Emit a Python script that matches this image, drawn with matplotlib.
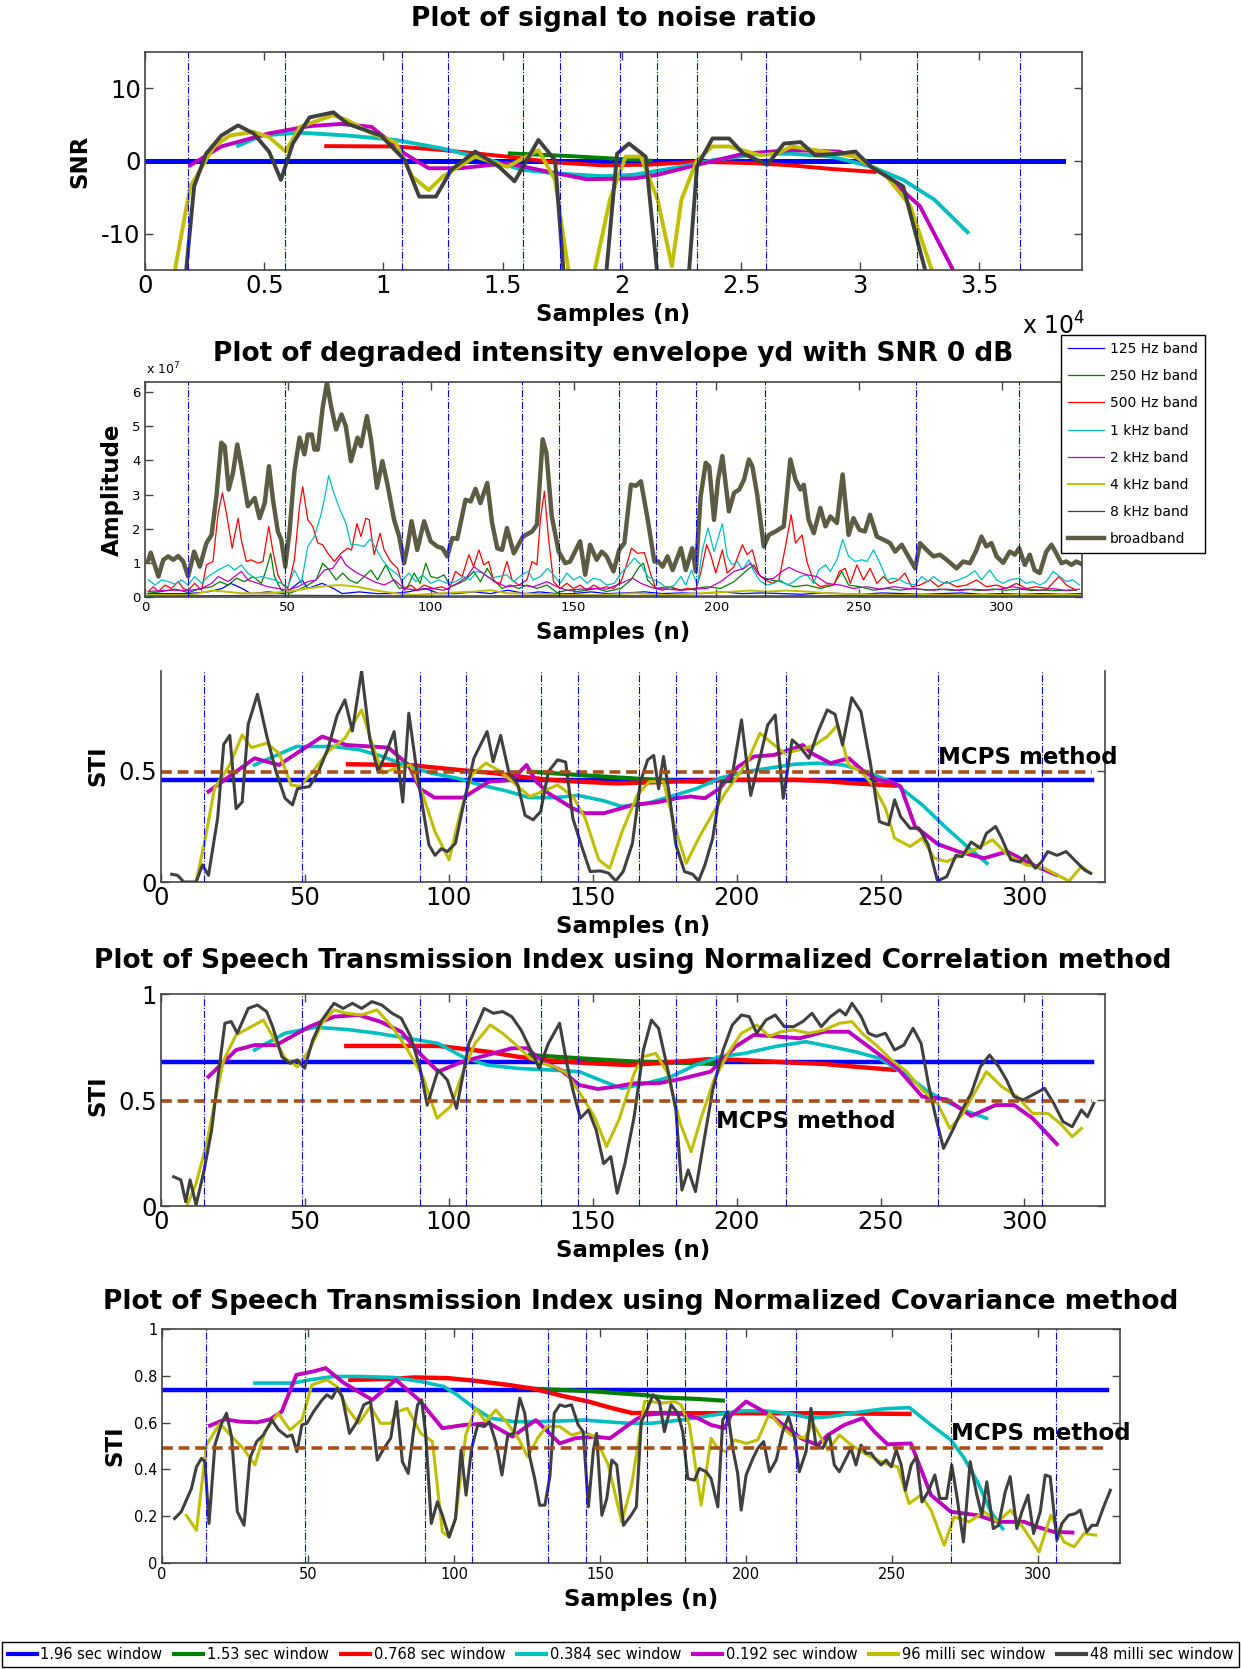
import numpy as np
import matplotlib
matplotlib.use("Agg")
import matplotlib.pyplot as plt
from matplotlib.lines import Line2D
from matplotlib.ticker import FormatStrFormatter

plt.rcParams['font.family'] = ['DejaVu Sans']
plt.rcParams['axes.unicode_minus'] = False
plt.rcParams['mathtext.default'] = 'regular'

# MATLAB style colours
C_BLUE = (0, 0, 1)
C_GREEN = (0, 0.5, 0)
C_RED = (1, 0, 0)
C_CYAN = (0, 0.75, 0.75)
C_MAG = (0.75, 0, 0.75)
C_YEL = (0.75, 0.75, 0)
C_GRAY = (0.25, 0.25, 0.25)
C_OLIVE = '#5c5b44'
C_BROWN = '#a5501a'

window_labels = ['1.96 sec window', '1.53 sec window', '0.768 sec window', '0.384 sec window',
                 '0.192 sec window', '96 milli sec window', '48 milli sec window']
band_labels = ['125 Hz band', '250 Hz band', '500 Hz band', '1 kHz band', '2 kHz band',
               '4 kHz band', '8 kHz band', 'broadband']

# window boundaries (samples)
win_marks = [15, 49, 90, 106, 132, 145, 166, 179, 193, 217, 270, 306]
hop = 0.012   # samples -> x10^4 for the SNR plot

# ---------------- SNR plot (x in units of 10^4) ----------------
snr_blue_end = 3.85
snr_green = [(1.53, 1.05), (1.78, 0.68), (2.12, 0.05)]
snr_red = [(0.76, 2.05), (1.05, 2.0), (1.25, 1.5), (1.52, 0.6), (1.72, -0.2), (1.92, -0.6), (2.12, -0.5),
           (2.32, -0.1), (2.55, -0.3), (2.71, -0.6), (2.88, -1.1), (3.06, -1.5)]
snr_cyan = [(0.39, 2.1), (0.49, 3.5), (0.65, 3.9), (0.85, 3.5), (1.05, 2.9), (1.25, 1.7), (1.45, 0.1),
            (1.58, -1.2), (1.72, -1.7), (1.92, -2.1), (2.05, -1.9), (2.25, -0.8), (2.38, 0.1), (2.58, 1.0),
            (2.71, 1.0), (2.88, 0.6), (3.05, -0.8), (3.18, -2.6), (3.31, -5.3), (3.45, -9.8)]
snr_mag = [(0.19, -0.6), (0.32, 2.0), (0.52, 3.8), (0.69, 4.8), (0.82, 5.1), (0.95, 4.7), (1.09, 1.0),
           (1.19, -1.0), (1.32, -1.0), (1.52, -0.3), (1.65, -1.2), (1.85, -2.5), (2.05, -2.4), (2.15, -1.9),
           (2.32, -0.5), (2.51, 1.0), (2.71, 1.5), (2.91, 1.3), (2.98, 0.6), (3.11, -2.1), (3.25, -6.2),
           (3.38, -14.4), (3.41, -16.5)]
snr_yel = [(0.12, -16), (0.19, -3.5), (0.29, 2.0), (0.355, 3.5), (0.455, 4.0), (0.52, 3.3), (0.59, 1.3),
           (0.65, 4.7), (0.79, 6.3), (0.85, 5.6), (0.95, 3.8), (1.05, 2.6), (1.12, -2.1), (1.19, -4.0),
           (1.25, -2.1), (1.385, 0.6), (1.52, -0.8), (1.65, 1.5), (1.72, -2.6), (1.78, -16), (1.88, -16),
           (1.95, -5.3), (2.016, 0.6), (2.08, 0.6), (2.15, -5.3), (2.21, -14.5), (2.25, -5.3), (2.315, 0.1),
           (2.38, 2.0), (2.45, 2.0), (2.58, 0.8), (2.65, 1.0), (2.71, 2.0), (2.85, 1.3), (2.98, 0.6),
           (3.11, -2.1), (3.21, -6.2), (3.31, -16)]
snr_blk = [(0.17, -16), (0.206, -3.5), (0.256, 1.0), (0.32, 3.5), (0.39, 4.9), (0.455, 3.8), (0.52, 1.3),
           (0.57, -2.6), (0.62, 2.4), (0.69, 6.0), (0.79, 6.7), (0.85, 5.1), (0.99, 3.5), (1.09, 0.1),
           (1.15, -4.9), (1.22, -4.9), (1.285, -1.2), (1.385, 1.3), (1.485, -0.8), (1.55, -2.8), (1.65, 2.9),
           (1.72, 0.1), (1.757, -16), (1.933, -16), (1.98, 1.0), (2.03, 2.4), (2.1, 0.6), (2.15, -16),
           (2.28, -16), (2.315, -0.8), (2.38, 3.1), (2.45, 3.1), (2.51, 1.0), (2.61, -0.5), (2.68, 2.4),
           (2.75, 2.6), (2.81, 0.8), (2.91, 1.0), (2.98, 1.3), (3.045, -0.8), (3.18, -3.5), (3.28, -16)]

# ---------------- degraded intensity envelope (x 1e7) ----------------
env_blue = [(1, 0.1), (8, 0.1), (15, 0.1), (22, 0.15), (27, 0.25), (30, 0.4), (34, 0.25), (37, 0.1), (43, 0.15),
            (49, 0.1), (52, 0.3), (55, 0.5), (57, 0.25), (62, 0.4), (66, 0.25), (69, 0.1), (75, 0.15), (81, 0.1),
            (86, 0.1), (92, 0.15), (98, 0.25), (103, 0.1), (109, 0.1), (115, 0.15), (121, 0.1), (127, 0.2),
            (133, 0.1), (138, 0.15), (144, 0.1), (150, 0.1), (156, 0.15), (162, 0.1), (168, 0.12), (175, 0.15),
            (181, 0.1), (188, 0.12), (195, 0.1), (202, 0.15), (209, 0.1), (216, 0.12), (223, 0.1), (230, 0.08),
            (237, 0.12), (244, 0.1), (251, 0.08), (258, 0.12), (265, 0.1), (272, 0.08), (279, 0.1), (286, 0.12),
            (293, 0.08), (300, 0.1), (307, 0.08), (314, 0.1), (321, 0.08), (328, 0.1)]
env_green = [(1.2, 0.11), (5.8, 0.16), (10.5, 0.23), (15.1, 0.13), (19.8, 0.25), (23.3, 0.3), (26.2, 0.45),
             (29.1, 0.35), (32, 0.55), (34.9, 0.45), (37.8, 0.6), (40.7, 0.4), (42.4, 0.79), (44, 1.28),
             (45.3, 0.6), (47.7, 0.2), (50.6, 0.11), (53.5, 0.2), (57, 0.35), (59.9, 0.5), (62.2, 0.99),
             (64.5, 0.79), (66.9, 0.5), (69.2, 0.7), (71.5, 0.5), (74.2, 0.4), (76.7, 0.6), (79.1, 0.79),
             (81.4, 0.5), (84.3, 0.94), (86.6, 0.55), (89, 0.25), (91.9, 0.3), (94.2, 0.7), (96.3, 0.4),
             (98.3, 0.99), (100, 0.6), (102.3, 0.55), (104.7, 0.65), (107, 0.3), (109.9, 0.4), (112.2, 0.5),
             (115.1, 0.75), (117.4, 0.45), (119.8, 0.84), (122.1, 0.5), (125, 0.25), (127.9, 0.35),
             (130.8, 0.25), (133.7, 0.35), (137.2, 0.25), (140.7, 0.35), (144.2, 0.13), (147.7, 0.2),
             (151.2, 0.16), (154.7, 0.2), (158.1, 0.25), (161.6, 0.16), (166.6, 0.25), (170.1, 0.5),
             (173, 0.89), (174.5, 0.99), (175.9, 0.5), (178.8, 0.25), (182.9, 0.3), (187.6, 0.2),
             (192.2, 0.25), (196.9, 0.3), (201.5, 0.25), (206.2, 0.45), (210.8, 0.79), (213.1, 0.94),
             (215.5, 0.6), (219, 0.5), (222.4, 0.45), (227.1, 0.3), (231.7, 0.35), (236.4, 0.25), (241, 0.35),
             (243.9, 0.75), (246.3, 0.35), (250.3, 0.3), (255, 0.2), (259.7, 0.25), (264.3, 0.2), (269, 0.25),
             (273.6, 0.2), (278.3, 0.23), (282.9, 0.19), (287.6, 0.23), (292.2, 0.19), (296.9, 0.23),
             (301.5, 0.2), (306.2, 0.23), (310.8, 0.19), (315.5, 0.2), (320.1, 0.19), (326, 0.2)]
env_red = [(1.2, 0.16), (2.9, 0.3), (4.7, 0.16), (7, 0.35), (9.3, 0.25), (11.6, 0.45), (13.4, 0.25), (15.1, 0.2),
           (17.4, 0.4), (19.8, 0.2), (21.5, 0.94), (23.8, 1.04), (25.6, 2.46), (27.1, 3.05), (28.5, 2.46),
           (30.5, 1.43), (32.6, 2.31), (33.7, 1.68), (35.5, 1.04), (37.2, 1.09), (39.5, 0.99), (41.3, 1.04),
           (43.3, 2.07), (44.8, 1.33), (46.5, 0.65), (48.3, 0.35), (50, 0.25), (52.3, 1.09), (54.1, 2.66),
           (55.2, 3.23), (57, 2.26), (58.7, 2.07), (60.5, 1.58), (62.2, 1.53), (64, 1.28), (66.3, 1.04),
           (68.6, 1.28), (70.9, 1.43), (72.3, 1.38), (74.2, 2.15), (75.6, 1.77), (77.3, 2.31), (78.5, 2.26),
           (80.2, 1.24), (82.3, 1.87), (83.7, 1.38), (86, 1.04), (88.4, 0.84), (90.7, 0.2), (93, 0.35),
           (95.3, 0.2), (97.7, 0.35), (101, 0.25), (104, 0.3), (106.4, 0.2), (108.7, 0.75), (111, 0.6),
           (113.4, 1.24), (115, 0.89), (116.9, 1.38), (118.6, 0.94), (120.3, 1.04), (122.1, 0.45), (124.4, 0.4),
           (126.7, 1.04), (128.5, 0.5), (130.8, 0.35), (133.7, 0.5), (135.5, 1.04), (137.2, 0.94), (138.4, 2.26),
           (139.8, 3.1), (141.3, 1.68), (143, 0.45), (145.3, 0.25), (147.7, 0.4), (150, 0.25), (152.3, 0.35),
           (154.7, 0.2), (157, 0.35), (159.3, 0.25), (161.6, 0.3), (164, 0.25), (166.6, 0.45), (168.4, 0.89),
           (170.3, 1.43), (172.4, 1.28), (174.8, 1.3), (177.1, 0.65), (178.8, 0.25), (181.2, 0.2), (184.1, 0.3),
           (187, 0.2), (189.9, 0.25), (192.8, 0.2), (194.5, 0.7), (196.6, 1.53), (198, 1.24), (199.8, 0.7),
           (202.1, 1.38), (203.8, 0.7), (206.2, 0.89), (209.1, 1.53), (210.8, 1.24), (212.6, 1.38),
           (214.9, 0.65), (217.2, 0.5), (219.5, 0.4), (221.9, 0.5), (224.2, 1.48), (226.2, 2.41), (227.7, 1.58),
           (230, 1.82), (231.7, 1.04), (234.1, 0.45), (236.4, 0.3), (238.7, 0.35), (241.1, 0.35), (243.1, 0.75),
           (245.1, 0.84), (246.9, 0.4), (249.2, 0.94), (251.5, 0.5), (253.8, 0.84), (256.2, 0.4), (258.5, 0.6),
           (260.8, 0.4), (263.7, 0.5), (266, 0.7), (268.4, 0.3), (271.3, 0.35), (274.8, 0.5), (277.7, 0.3),
           (280.6, 0.45), (284.1, 0.3), (287.6, 0.35), (291.1, 0.5), (294.5, 0.3), (298.1, 0.35), (301.5, 0.25),
           (305, 0.4), (308.5, 0.25), (311.9, 0.3), (316, 0.25), (319.9, 0.6), (322.5, 0.35), (326, 0.2)]
env_cyan = [(1.2, 0.5), (3.5, 0.35), (5.8, 0.5), (8.1, 0.45), (10.5, 0.38), (12.8, 0.5), (15.1, 0.35),
            (17.4, 0.6), (19.8, 0.4), (22.1, 0.6), (25.6, 0.79), (29.1, 0.94), (31.4, 0.79), (33.7, 0.94),
            (36, 0.7), (38.4, 0.55), (40.7, 0.6), (43, 0.55), (45.3, 0.5), (47.7, 0.4), (50, 0.3), (52.3, 0.79),
            (54.7, 0.4), (57, 1.48), (59.3, 1.77), (61.6, 2.41), (63, 2.95), (64.3, 3.56), (65.7, 3.15),
            (68, 2.61), (70.3, 2.17), (72.1, 1.53), (74.4, 1.53), (76.7, 1.48), (78.8, 1.7), (80.8, 1.43),
            (83.1, 1.09), (85.5, 0.84), (87.8, 0.7), (90.1, 0.5), (92.4, 0.7), (94.8, 0.45), (97.1, 0.65),
            (100, 0.4), (102.9, 0.5), (105.8, 0.4), (108.7, 0.45), (111.5, 0.6), (113.8, 0.5), (116.1, 0.75),
            (118.4, 0.7), (120.8, 0.55), (123.7, 0.6), (126.6, 0.65), (129, 0.45), (131.9, 0.65), (134.2, 0.75),
            (135.9, 0.5), (138.4, 0.6), (140.9, 0.84), (143, 0.65), (145.3, 0.4), (147.7, 0.7), (150, 0.5),
            (152.3, 0.6), (154.7, 0.4), (157, 0.55), (159.3, 0.5), (161.6, 0.35), (164.3, 0.4), (166.6, 0.7),
            (168.9, 0.89), (171.3, 1.14), (173.6, 0.94), (176, 0.6), (178.3, 0.5), (180.6, 0.4), (182.9, 0.25),
            (185.3, 0.35), (187.6, 0.6), (189.3, 0.35), (191.3, 0.79), (193.4, 0.35), (195.1, 1.38),
            (197.1, 2.02), (199.2, 1.33), (200.6, 1.73), (202.1, 2.15), (203.8, 1.19), (205.6, 0.94),
            (207.4, 1.04), (209.1, 0.79), (211.4, 1.09), (213.1, 0.75), (215.5, 0.45), (217.8, 0.35),
            (220.1, 0.4), (222.4, 0.5), (224.8, 0.35), (227.1, 0.45), (229.4, 0.6), (231.7, 0.65), (234.1, 0.4),
            (235.8, 0.79), (238.2, 0.94), (239.9, 0.75), (242.2, 1.09), (244.2, 1.68), (246.3, 1.19),
            (248.6, 1.04), (250.9, 1.09), (252.7, 1.04), (255, 1.38), (257.3, 0.99), (259.7, 0.5), (262, 0.55),
            (264.3, 0.5), (266.6, 0.4), (269.5, 0.35), (271.9, 0.6), (274.2, 0.45), (276, 0.6), (278.3, 0.45),
            (280.6, 0.4), (284.7, 0.5), (287.6, 0.6), (290.5, 0.77), (292.8, 0.5), (295.7, 0.79), (298.1, 0.5),
            (300.4, 0.4), (302.7, 0.5), (306, 0.55), (308.5, 0.4), (310.9, 0.45), (313.2, 0.35), (315.5, 0.45),
            (317.9, 0.75), (320.2, 0.6), (322.5, 0.45), (324.8, 0.5), (327.1, 0.35)]
env_mag = [(1.2, 0.16), (5.8, 0.19), (10.5, 0.2), (15.1, 0.19), (19.8, 0.25), (23.3, 0.4), (25.6, 0.6),
           (29.1, 0.45), (31.4, 0.6), (33.7, 0.75), (36, 0.5), (39.5, 0.4), (43, 0.3), (46.5, 0.25), (50, 0.2),
           (53.5, 0.3), (57, 0.45), (59.9, 0.5), (62.8, 0.79), (65.7, 0.84), (68.6, 1.19), (70.3, 0.94),
           (73.3, 0.75), (76.7, 0.6), (80.2, 0.45), (83.7, 0.35), (87.2, 0.5), (90.7, 0.25), (95.3, 0.2),
           (100, 0.25), (104.7, 0.2), (109.3, 0.4), (112.8, 0.6), (115.1, 0.89), (117.4, 0.75), (119.8, 0.6),
           (123.3, 0.4), (126.7, 0.3), (131.4, 0.35), (136, 0.3), (140.7, 0.45), (144.2, 0.3), (147.7, 0.2),
           (152.3, 0.23), (157, 0.25), (161.6, 0.23), (166.6, 0.4), (170.7, 0.55), (173.6, 0.4), (178.3, 0.25),
           (182.9, 0.23), (187.6, 0.2), (192.2, 0.23), (196.9, 0.25), (201.5, 0.45), (206.2, 0.75),
           (209.7, 0.84), (212, 0.99), (214.3, 0.7), (217.2, 0.5), (220.1, 0.55), (223, 0.75), (225.4, 0.87),
           (228.3, 0.75), (231.7, 0.65), (235.2, 0.6), (238.7, 0.4), (243.4, 0.35), (248, 0.25), (252.7, 0.3),
           (257.3, 0.23), (262, 0.3), (266.6, 0.25), (271.3, 0.23), (275.9, 0.2), (280.6, 0.23), (285.2, 0.19),
           (289.9, 0.23), (294.5, 0.2), (299.2, 0.23), (303.8, 0.3), (308.5, 0.23), (313.1, 0.2), (317.8, 0.25),
           (322.4, 0.19), (327.1, 0.23)]
env_yel = [(1.2, 0.06), (16.3, 0.06), (23.3, 0.19), (27.9, 0.16), (33.7, 0.11), (43, 0.11), (50, 0.16),
           (57, 0.25), (64, 0.33), (68.6, 0.35), (74.4, 0.3), (80.2, 0.2), (87.2, 0.11), (94.2, 0.06),
           (103.5, 0.11), (115.1, 0.16), (120.9, 0.2), (126.7, 0.11), (138.4, 0.09), (150, 0.06), (159.7, 0.06),
           (171.3, 0.11), (182.9, 0.06), (194.5, 0.11), (206.2, 0.16), (212, 0.19), (217.8, 0.16), (224.8, 0.19),
           (231.7, 0.16), (238.7, 0.11), (245.7, 0.09), (258.5, 0.06), (275.9, 0.06), (299.2, 0.06),
           (327.1, 0.06)]
env_8k = [(0, 0.03), (50, 0.05), (100, 0.03), (150, 0.04), (200, 0.03), (250, 0.04), (300, 0.03), (328, 0.03)]
env_bb = [(1, 1.04), (2, 1.3), (4.7, 0.6), (6.4, 1.09), (8.1, 1.19), (9.9, 1.09), (11.6, 1.2), (13.4, 1.04),
          (15.1, 0.6), (17.2, 1.33), (19.2, 0.89), (21.5, 1.58), (23.3, 1.82), (25, 2.95), (26.7, 4.52),
          (27.9, 4.42), (29.3, 3.15), (30.8, 3.64), (32.3, 4.47), (33.7, 3.83), (36, 2.66), (38.4, 2.9),
          (40.1, 2.31), (41.9, 2.75), (43.4, 3.83), (44.8, 2.85), (46.5, 1.92), (47.7, 1.68), (49.1, 0.89),
          (50.6, 1.92), (52.3, 3.69), (54.1, 4.67), (55.8, 4.18), (57, 4.76), (58.4, 4.76), (59.3, 4.32),
          (60.5, 4.32), (62.2, 5.55), (63.7, 6.28), (65.1, 5.6), (66.9, 4.91), (68.8, 5.35), (70.3, 5.0),
          (72.1, 3.98), (74.4, 4.67), (75.6, 4.42), (77.7, 5.3), (79.1, 4.62), (81.2, 3.2), (83.1, 3.98),
          (84.9, 3.29), (87.2, 2.26), (89, 1.77), (90.7, 0.99), (91.9, 1.48), (93.3, 2.22), (95.3, 1.38),
          (97.7, 2.22), (100, 1.63), (102.3, 1.48), (104.1, 1.43), (105.8, 1.19), (107.6, 1.73), (109.3, 1.7),
          (112.2, 2.85), (114, 2.8), (115.7, 3.17), (117.4, 2.75), (119.8, 3.34), (121.5, 2.17), (123.3, 1.43),
          (125, 1.38), (126.7, 2.02), (129.1, 1.28), (132.3, 1.77), (135.5, 1.92), (137.2, 2.12), (139.2, 4.62),
          (140.5, 4.23), (142.4, 2.36), (144.8, 1.33), (147.1, 0.99), (148.8, 1.04), (152.3, 1.63),
          (154.1, 0.65), (155.8, 1.53), (158.1, 1.09), (159.9, 1.33), (161.6, 1.19), (164, 0.75), (166, 1.38),
          (167.8, 1.58), (170.1, 3.29), (171.9, 3.26), (173.6, 3.39), (176, 2.26), (178.3, 1.04), (179.7, 1.04),
          (181.2, 0.89), (182.9, 1.19), (184.7, 0.79), (187.6, 1.43), (189.3, 0.79), (191.6, 1.43),
          (192.8, 0.75), (194.5, 2.95), (196.3, 3.93), (197.5, 3.83), (199.2, 2.26), (200.6, 3.44),
          (202.1, 4.13), (204.4, 2.51), (206.2, 3.05), (208, 3.15), (209.7, 3.44), (211.4, 4.03), (212.6, 3.83),
          (214.3, 3.0), (216.6, 1.48), (218.4, 1.82), (220.7, 1.92), (223.6, 2.07), (225.9, 4.03), (227.7, 3.44),
          (229.4, 3.15), (230.6, 3.29), (232.3, 2.26), (234.1, 1.87), (236.4, 2.61), (238.2, 2.07),
          (239.9, 2.36), (242.2, 2.17), (244.2, 3.59), (246.3, 1.82), (248, 2.31), (250.1, 1.97), (252, 1.92),
          (253.8, 2.41), (256.2, 1.77), (258.5, 1.68), (260.8, 1.58), (262.6, 1.33), (264.9, 1.53),
          (267.2, 1.19), (269.6, 0.84), (271.3, 1.58), (273.6, 1.38), (276, 1.19), (278.3, 1.24), (280.6, 1.09),
          (284.1, 0.84), (286.4, 1.04), (288.8, 0.99), (291.1, 1.38), (292.8, 1.77), (294.5, 1.48),
          (296.3, 1.58), (298.1, 1.19), (300.4, 1.0), (302.7, 1.33), (304.5, 1.24), (306, 1.43), (308, 0.94),
          (309.7, 1.24), (311.4, 0.79), (313.2, 0.7), (315.5, 1.33), (317.3, 1.53), (319, 1.28), (320.8, 0.99),
          (322.5, 1.04), (324.3, 0.94), (326, 1.04), (328, 0.96)]

# ---------------- STI plots ----------------
blue_end = 323.5
sti_blue_level = [0.46, 0.68, 0.74]
mcps_level = [0.497, 0.495, 0.49]

# third plot (no title)
p3_green = [(128, 0.497), (145, 0.482), (167, 0.464), (179, 0.455), (191, 0.449)]
p3_red = [(65, 0.53), (86, 0.527), (103, 0.505), (116, 0.49), (124, 0.475), (135, 0.46), (145, 0.452),
          (158, 0.444), (171, 0.449), (184, 0.455), (199, 0.46), (220, 0.46), (230, 0.455), (241, 0.444),
          (255, 0.434)]
p3_cyan = [(32.5, 0.527), (47, 0.61), (60, 0.61), (69, 0.595), (77, 0.565), (86, 0.52), (94, 0.49), (103, 0.467),
           (111, 0.437), (120, 0.41), (128, 0.38), (137, 0.38), (145, 0.39), (154, 0.365), (160, 0.34),
           (169, 0.354), (177, 0.385), (186, 0.42), (194, 0.467), (203, 0.497), (211, 0.512), (220, 0.53),
           (228, 0.535), (237, 0.527), (245, 0.497), (255, 0.444), (264.5, 0.347), (273, 0.242), (281.5, 0.144),
           (287, 0.084)]
p3_mag = [(16.5, 0.407), (32.5, 0.557), (41, 0.527), (56, 0.655), (64.4, 0.617), (79, 0.605), (86, 0.527),
          (90, 0.42), (95, 0.38), (105, 0.38), (114, 0.452), (122, 0.46), (127, 0.527), (130.4, 0.452),
          (134.6, 0.4), (143, 0.332), (147, 0.31), (154, 0.31), (164, 0.347), (173, 0.36), (179, 0.377),
          (184, 0.385), (189, 0.377), (194, 0.42), (200.6, 0.52), (206, 0.565), (213, 0.572), (220, 0.602),
          (223, 0.617), (226, 0.58), (232.6, 0.535), (239, 0.557), (244, 0.5), (249, 0.46), (254, 0.45),
          (257, 0.43), (262, 0.25), (270, 0.17), (277, 0.137), (286, 0.107), (294, 0.137), (303, 0.077),
          (311, 0.032)]
p3_yel = [(12.2, 0.0), (15.4, 0.197), (18.6, 0.422), (23.9, 0.527), (28.2, 0.662), (31.4, 0.605), (36.7, 0.625),
          (41, 0.58), (45.2, 0.437), (48.4, 0.43), (52.7, 0.497), (58, 0.587), (63.9, 0.647), (69.7, 0.775),
          (73.9, 0.602), (77.1, 0.49), (81.4, 0.512), (86.7, 0.527), (91, 0.392), (95.2, 0.227), (100.1, 0.1),
          (103.8, 0.302), (108, 0.482), (112.9, 0.535), (118, 0.497), (124, 0.43), (128.2, 0.385),
          (132.5, 0.407), (137.8, 0.437), (143.1, 0.385), (147.4, 0.287), (152.1, 0.1), (155.9, 0.062),
          (160.2, 0.227), (165.5, 0.392), (169.7, 0.452), (174.6, 0.452), (178.3, 0.257), (182.5, 0.084),
          (186.8, 0.197), (192.1, 0.317), (196.4, 0.407), (200.6, 0.482), (203.8, 0.542), (208.1, 0.67),
          (212.3, 0.625), (216.6, 0.58), (221.9, 0.595), (227.2, 0.617), (231.5, 0.655), (235.1, 0.707),
          (238.9, 0.527), (243.2, 0.497), (247.4, 0.437), (251.7, 0.332), (254.9, 0.197), (260.3, 0.16),
          (264.5, 0.197), (268.7, 0.107), (273, 0.092), (278.3, 0.122), (283.6, 0.152), (288.9, 0.19),
          (294.2, 0.122), (300.6, 0.077), (307, 0.062), (312.4, 0.024), (315.6, 0.005), (319.8, 0.07),
          (323, 0.04)]
p3_blk = [(3.7, 0.035), (5.8, 0.03), (7.9, 0.0), (12.2, 0.0), (14.4, 0.077), (16.5, 0.03), (19.7, 0.29),
          (21.8, 0.62), (23.9, 0.66), (26.1, 0.33), (28.2, 0.36), (30.3, 0.71), (33.5, 0.845), (36.7, 0.66),
          (39.9, 0.5), (43.1, 0.377), (45.7, 0.347), (47.4, 0.42), (51.6, 0.43), (54.8, 0.5), (58, 0.6),
          (61.2, 0.75), (63.9, 0.82), (66.5, 0.68), (69.7, 0.95), (72.5, 0.647), (75.4, 0.497), (78.2, 0.58),
          (81, 0.677), (84, 0.36), (86.1, 0.76), (88.9, 0.497), (91, 0.33), (93.1, 0.167), (95.2, 0.12),
          (97.4, 0.15), (99.5, 0.137), (102.3, 0.174), (104.8, 0.33), (108.7, 0.557), (113.3, 0.677),
          (115.4, 0.542), (118, 0.66), (120.8, 0.497), (124, 0.437), (126.5, 0.3), (129.3, 0.28), (131.9, 0.317),
          (134.6, 0.497), (137.8, 0.55), (140.6, 0.54), (143.1, 0.287), (146.3, 0.155), (149.1, 0.047),
          (152.7, 0.05), (155.5, 0.04), (158, 0.005), (160.6, 0.047), (163.8, 0.174), (166.6, 0.452),
          (169.1, 0.55), (171.2, 0.57), (172.9, 0.42), (174.6, 0.565), (176.8, 0.377), (178.9, 0.167),
          (181.9, 0.047), (184.7, 0.035), (186.8, 0.005), (189, 0.077), (191.7, 0.197), (194.7, 0.452),
          (198.1, 0.452), (201.7, 0.73), (204.9, 0.39), (208.1, 0.557), (210.8, 0.707), (213.4, 0.752),
          (216.2, 0.377), (219.3, 0.64), (221.9, 0.61), (225.1, 0.557), (228.3, 0.677), (231.5, 0.775),
          (234.2, 0.755), (236.8, 0.617), (240, 0.83), (243.2, 0.767), (246.4, 0.542), (249.6, 0.272),
          (252.8, 0.257), (254.9, 0.37), (257, 0.294), (260.3, 0.242), (263.4, 0.242), (266.6, 0.167),
          (269.8, 0.005), (273, 0.024), (276.2, 0.12), (278.3, 0.114), (281.5, 0.18), (284.7, 0.152),
          (286.8, 0.219), (290, 0.25), (292.1, 0.197), (295.3, 0.1), (298.5, 0.09), (300.6, 0.12),
          (303.8, 0.062), (305.9, 0.09), (308.1, 0.137), (311.3, 0.12), (314.5, 0.137), (317.7, 0.095),
          (320.9, 0.054), (323, 0.039)]

# normalized correlation
p4_green = [(128.2, 0.712), (145.3, 0.697), (164.4, 0.681), (179.3, 0.676), (192.1, 0.67)]
p4_red = [(64.4, 0.755), (96.3, 0.755), (113.3, 0.728), (124, 0.704), (134.6, 0.686), (149.5, 0.673),
          (162.3, 0.665), (175, 0.676), (190, 0.692), (200.6, 0.689), (219.8, 0.676), (230.4, 0.67),
          (241.1, 0.657), (254.9, 0.642)]
p4_cyan = [(32.5, 0.736), (43.1, 0.815), (53.7, 0.843), (64.4, 0.833), (75, 0.815), (85.7, 0.791), (96.3, 0.767),
           (104.8, 0.704), (113.3, 0.665), (124, 0.649), (134.6, 0.642), (145.3, 0.634), (153.8, 0.587),
           (160.2, 0.555), (168.7, 0.579), (177.2, 0.61), (185.7, 0.665), (194.2, 0.704), (202.7, 0.72),
           (213.4, 0.752), (224, 0.775), (232.6, 0.752), (241.1, 0.728), (249.6, 0.697), (258.1, 0.626),
           (266.6, 0.539), (273, 0.492), (280.4, 0.445), (286.8, 0.414)]
p4_mag = [(16.5, 0.61), (26.1, 0.736), (32.5, 0.759), (40, 0.759), (51.6, 0.846), (60.1, 0.893), (68.6, 0.901),
          (76.1, 0.87), (83.5, 0.822), (89.9, 0.72), (96.3, 0.634), (104.8, 0.681), (113.3, 0.712),
          (121.9, 0.744), (127.2, 0.744), (132.5, 0.681), (138.9, 0.642), (145.3, 0.571), (151.7, 0.552),
          (158, 0.563), (164.4, 0.579), (172.9, 0.579), (181.5, 0.602), (191, 0.634), (199.6, 0.752), (206, 0.807),
          (213.4, 0.8), (221.9, 0.791), (230.4, 0.822), (238.9, 0.822), (247.4, 0.736), (255.9, 0.65),
          (264.5, 0.516), (273, 0.503), (281.5, 0.425), (290, 0.476), (296.4, 0.476), (302.8, 0.414),
          (311.3, 0.292)]
p4_yel = [(9, 0.0), (12.2, 0.107), (15.9, 0.296), (18.6, 0.484), (21.8, 0.689), (26.1, 0.807), (30.3, 0.838),
          (35.6, 0.877), (38.8, 0.8), (43.1, 0.697), (47.4, 0.657), (51.6, 0.736), (55.9, 0.862), (60.1, 0.925),
          (64.4, 0.909), (69.7, 0.901), (75, 0.925), (80.3, 0.846), (85.7, 0.736), (91, 0.61), (95.9, 0.414),
          (100.6, 0.469), (104.8, 0.626), (109.1, 0.767), (114.4, 0.854), (118.7, 0.815), (124, 0.752),
          (128.2, 0.697), (132.5, 0.673), (136.8, 0.657), (141, 0.626), (146.3, 0.516), (150.6, 0.421),
          (154.8, 0.28), (159.1, 0.406), (164.4, 0.626), (167.6, 0.704), (171.9, 0.72), (176.1, 0.626),
          (180.4, 0.39), (184.2, 0.256), (187.8, 0.421), (192.1, 0.594), (197.4, 0.728), (201.7, 0.815),
          (207, 0.854), (211.3, 0.8), (215.5, 0.822), (219.8, 0.83), (225.1, 0.815), (230.4, 0.83),
          (235.7, 0.862), (240, 0.87), (244.2, 0.807), (248.5, 0.759), (253.8, 0.689), (259.1, 0.634),
          (264.5, 0.547), (269.8, 0.484), (274.1, 0.366), (278.3, 0.429), (282.6, 0.531), (286.8, 0.634),
          (292.1, 0.563), (297.5, 0.516), (302.8, 0.437), (308.1, 0.437), (312.4, 0.39), (316.6, 0.327),
          (319.8, 0.366)]
p4_blk = [(4.4, 0.138), (6.9, 0.123), (8.6, 0.02), (10.1, 0.123), (12.2, 0.005), (15, 0.17), (17.6, 0.358),
          (20.1, 0.64), (22.2, 0.862), (24.4, 0.87), (26.5, 0.815), (30.3, 0.932), (33.5, 0.948), (36.7, 0.917),
          (38.8, 0.846), (42, 0.704), (44.8, 0.673), (47.4, 0.689), (49.9, 0.65), (52.7, 0.783), (55.9, 0.877),
          (60.1, 0.956), (63.3, 0.932), (66.5, 0.956), (69.7, 0.932), (73.3, 0.964), (76.7, 0.948),
          (80.3, 0.909), (83.5, 0.885), (86.7, 0.8), (89.9, 0.657), (92.5, 0.476), (96.3, 0.642), (99.5, 0.594),
          (102.7, 0.46), (107, 0.767), (112.3, 0.932), (115.5, 0.909), (118.7, 0.917), (121.9, 0.893),
          (125.1, 0.83), (128.2, 0.744), (131.4, 0.65), (134.6, 0.767), (138.5, 0.862), (141, 0.673),
          (143.1, 0.547), (145.7, 0.414), (148.5, 0.453), (151.2, 0.358), (153.8, 0.2), (156.3, 0.233),
          (158.5, 0.06), (161.2, 0.2), (164.4, 0.421), (167.6, 0.736), (170.4, 0.877), (172.9, 0.838),
          (176.1, 0.642), (178.9, 0.453), (181, 0.075), (183.2, 0.17), (185.7, 0.068), (188.9, 0.327),
          (191.7, 0.547), (195.3, 0.736), (198.5, 0.854), (201.7, 0.901), (204.4, 0.893), (207, 0.815),
          (210.2, 0.877), (213.4, 0.901), (216.6, 0.846), (219.8, 0.846), (223, 0.87), (226.2, 0.909),
          (229.4, 0.846), (232.6, 0.893), (235.8, 0.925), (237.9, 0.901), (240.1, 0.956), (243.3, 0.893),
          (245.8, 0.815), (248.5, 0.8), (251.7, 0.815), (254.9, 0.736), (258.1, 0.759), (261.3, 0.838),
          (264.1, 0.767), (266.6, 0.579), (269.4, 0.406), (271.9, 0.272), (275.1, 0.358), (278.3, 0.453),
          (281.5, 0.531), (284.7, 0.657), (287.9, 0.712), (291.1, 0.657), (293.8, 0.594), (296.4, 0.516),
          (299.6, 0.5), (302.8, 0.524), (307, 0.555), (310.2, 0.484), (313.4, 0.398), (316.6, 0.374),
          (319.8, 0.453), (321.9, 0.421), (324.1, 0.484)]

# normalized covariance
p5_green = [(128.6, 0.744), (148.2, 0.733), (166.6, 0.716), (172, 0.707), (183.4, 0.701), (192, 0.694)]
p5_red = [(64.5, 0.783), (79.4, 0.787), (86.3, 0.793), (97.8, 0.79), (107, 0.779), (118.4, 0.761),
          (127.6, 0.744), (136.8, 0.715), (146, 0.69), (154, 0.662), (160.9, 0.641), (183.4, 0.64),
          (206.2, 0.64), (229, 0.64), (255.9, 0.637)]
p5_cyan = [(31.8, 0.769), (45, 0.769), (50.7, 0.783), (58.7, 0.797), (67.8, 0.797), (79.3, 0.793), (88.4, 0.776),
           (96.5, 0.754), (101, 0.719), (106.2, 0.669), (112.5, 0.619), (120.5, 0.604), (127.4, 0.604),
           (136.6, 0.607), (144.6, 0.611), (155, 0.601), (160.6, 0.597), (167.5, 0.597), (177.7, 0.611),
           (189.1, 0.633), (198.3, 0.65), (206.2, 0.65), (214.2, 0.64), (222.2, 0.619), (229, 0.626),
           (238.2, 0.644), (247.3, 0.659), (255.9, 0.664), (263.3, 0.59), (270.1, 0.526), (274.7, 0.447),
           (279.2, 0.347), (283.8, 0.219), (287.8, 0.147)]
p5_mag = [(16.4, 0.587), (21.6, 0.614), (26.7, 0.604), (32.5, 0.601), (37, 0.614), (41, 0.647), (46, 0.804),
          (52, 0.819), (56, 0.833), (62.3, 0.769), (72, 0.697), (80, 0.783), (88, 0.697), (96, 0.576),
          (103.5, 0.59), (112, 0.597), (120, 0.54), (128, 0.611), (136.2, 0.511), (141.4, 0.533), (148.3, 0.54),
          (153.4, 0.533), (157.4, 0.569), (162, 0.611), (165.2, 0.633), (172, 0.64), (177.7, 0.636),
          (183.4, 0.619), (188, 0.59), (192.6, 0.576), (194.8, 0.633), (200, 0.69), (205.1, 0.654),
          (209.7, 0.619), (214.2, 0.576), (218.8, 0.533), (224.5, 0.504), (228, 0.547), (233.6, 0.59),
          (239.9, 0.619), (243.9, 0.561), (248.4, 0.507), (256.4, 0.511), (259.3, 0.419), (263.3, 0.29),
          (270.1, 0.219), (279.2, 0.204), (286.1, 0.176), (295.2, 0.176), (299.7, 0.154), (305.4, 0.133),
          (311.7, 0.13)]
p5_yel = [(8.3, 0.204), (11.8, 0.14), (15.2, 0.504), (19.8, 0.597), (24.4, 0.533), (27.8, 0.49), (31.8, 0.419),
          (35.2, 0.561), (39.8, 0.64), (43.8, 0.569), (47.9, 0.611), (51.3, 0.761), (56.5, 0.783), (59.9, 0.754),
          (63.4, 0.661), (67.4, 0.597), (71.4, 0.669), (74.8, 0.597), (78.3, 0.597), (80.8, 0.647), (84, 0.661),
          (88.6, 0.554), (92.6, 0.519), (96, 0.133), (98.3, 0.111), (100.5, 0.19), (104, 0.547), (107.4, 0.661),
          (110.8, 0.604), (114.3, 0.654), (118.3, 0.597), (122.3, 0.526), (125.2, 0.454), (128.6, 0.533),
          (131.6, 0.583), (136.2, 0.583), (140.2, 0.547), (144.2, 0.561), (148.2, 0.54), (152.8, 0.419),
          (157.4, 0.176), (160.8, 0.333), (165.2, 0.69), (167.5, 0.69), (170.9, 0.683), (175.5, 0.69),
          (177.7, 0.676), (180.6, 0.59), (184.6, 0.247), (188, 0.533), (190.3, 0.49), (193.1, 0.476), (196, 0.526),
          (200, 0.511), (204, 0.526), (208, 0.64), (211.4, 0.59), (215.4, 0.547), (220, 0.533), (222.8, 0.597),
          (225.1, 0.547), (228, 0.483), (232, 0.547), (236, 0.504), (240.5, 0.469), (245, 0.44), (249, 0.419),
          (251.9, 0.411), (255.8, 0.254), (259.8, 0.29), (263.3, 0.226), (267.8, 0.076), (271.2, 0.197),
          (276.4, 0.176), (281.5, 0.219), (286.1, 0.176), (290.6, 0.226), (295.8, 0.133), (300.3, 0.047),
          (304.3, 0.204), (308.8, 0.09), (312.3, 0.069), (315.7, 0.126), (319.7, 0.119)]
p5_blk = [(4.3, 0.19), (6.6, 0.219), (10.1, 0.319), (11.8, 0.411), (13.5, 0.447), (14.7, 0.433), (16.1, 0.169),
          (18.1, 0.504), (20.4, 0.597), (22.1, 0.64), (23.8, 0.54), (25.8, 0.219), (28.1, 0.161), (30.1, 0.447),
          (32.4, 0.519), (34.7, 0.547), (37.6, 0.611), (39.9, 0.569), (42.8, 0.54), (44.5, 0.547), (46.2, 0.476),
          (47.9, 0.59), (49.6, 0.597), (51.9, 0.647), (54.8, 0.697), (56.5, 0.719), (58.2, 0.704), (60, 0.747),
          (61.7, 0.711), (64.2, 0.554), (66.8, 0.604), (69.1, 0.676), (71.4, 0.69), (73.7, 0.44), (76, 0.49),
          (78.3, 0.533), (80.3, 0.69), (82.3, 0.433), (84.3, 0.383), (86.1, 0.561), (87.5, 0.676), (88.9, 0.697),
          (90.3, 0.547), (92.2, 0.169), (94.3, 0.261), (96, 0.204), (98.3, 0.111), (100.5, 0.19), (102.4, 0.483),
          (104.1, 0.29), (106, 0.49), (108.1, 0.59), (110.4, 0.583), (112.1, 0.604), (114.4, 0.511),
          (116.4, 0.376), (118.4, 0.547), (120.5, 0.554), (122.5, 0.704), (124.2, 0.64), (125.9, 0.454),
          (127.6, 0.361), (129.3, 0.247), (131.1, 0.247), (132.8, 0.369), (134.3, 0.64), (136.2, 0.676),
          (138, 0.669), (140.2, 0.676), (142.5, 0.59), (144.2, 0.561), (146, 0.24), (147.7, 0.483),
          (148.8, 0.554), (150.6, 0.204), (152.3, 0.276), (154, 0.44), (155.7, 0.419), (158, 0.161),
          (160.6, 0.204), (162.4, 0.24), (164.1, 0.604), (165.8, 0.647), (168.1, 0.719), (170.3, 0.69),
          (172, 0.561), (174.3, 0.676), (176.6, 0.64), (178.3, 0.561), (180, 0.361), (182.3, 0.354), (184, 0.404),
          (186.3, 0.39), (188, 0.361), (190.3, 0.24), (192, 0.611), (193.7, 0.647), (195.4, 0.49), (197.1, 0.383),
          (198.3, 0.226), (200, 0.376), (202.3, 0.447), (204, 0.49), (206, 0.519), (208, 0.39), (210.3, 0.44),
          (212.5, 0.561), (214.5, 0.626), (216.5, 0.54), (218.2, 0.39), (220.5, 0.476), (222.2, 0.661),
          (223.9, 0.504), (226.2, 0.49), (228.5, 0.547), (230.2, 0.419), (231.9, 0.39), (234.2, 0.447),
          (235.9, 0.49), (237.6, 0.419), (239.3, 0.504), (241.1, 0.469), (242.8, 0.469), (244.5, 0.44),
          (246.2, 0.419), (247.9, 0.44), (249.7, 0.411), (251.4, 0.483), (253.1, 0.419), (254.5, 0.311),
          (256.5, 0.419), (258.3, 0.454), (260.2, 0.261), (262.3, 0.304), (264.6, 0.376), (266.3, 0.276),
          (268.6, 0.276), (270.4, 0.419), (272.1, 0.29), (274.4, 0.09), (276.7, 0.433), (279, 0.29),
          (280.7, 0.204), (282.4, 0.347), (284.6, 0.147), (286.4, 0.161), (288.7, 0.304), (290.4, 0.369),
          (292.7, 0.147), (294.4, 0.219), (296.5, 0.29), (298.4, 0.126), (300.7, 0.219), (302.4, 0.376),
          (304.1, 0.369), (306.4, 0.097), (308.1, 0.169), (310.4, 0.204), (312.7, 0.211), (314.4, 0.226),
          (316.6, 0.133), (318.4, 0.161), (320.1, 0.161), (322.4, 0.24), (324.7, 0.311)]


def xy(pairs):
    a = np.array(pairs, dtype=float)
    return a[:, 0], a[:, 1]


def style(ax, tsize):
    ax.tick_params(direction='in', top=True, right=True, length=6, width=1,
                   labelsize=tsize, color='#444444', pad=3)
    for s in ax.spines.values():
        s.set_color('#444444')
        s.set_linewidth(1.2)


def marks(ax, xs):
    for x in xs:
        ax.axvline(x, color=C_BLUE, lw=0.8, ls='-.', zorder=5)


def labels(ax, ytxt, xlab_y, ylab_x, ylab_y=0.5, fs=16.5):
    ax.set_xlabel('Samples (n)', fontsize=fs, fontweight='bold')
    ax.set_ylabel(ytxt, fontsize=fs, fontweight='bold')
    ax.xaxis.set_label_coords(0.5, xlab_y)
    ax.yaxis.set_label_coords(ylab_x, ylab_y)
    ax.xaxis.label.set_va('center')
    ax.yaxis.label.set_va('center')


fig = plt.figure(figsize=(12.41, 16.69), dpi=100)
W, H = 1241.0, 1669.0
TFS = 19      # title size
MFS = 16.5    # "MCPS method" size


def add_axes(l, r, t, b):
    return fig.add_axes([l / W, 1 - b / H, (r - l) / W, (b - t) / H])


# ---------- 1: SNR ----------
ax1 = add_axes(145, 1082, 52, 270)
ax1.plot([0, snr_blue_end], [0, 0], color=C_BLUE, lw=3.6)
for pairs, c in [(snr_green, C_GREEN), (snr_red, C_RED), (snr_cyan, C_CYAN), (snr_mag, C_MAG),
                 (snr_yel, C_YEL), (snr_blk, C_GRAY)]:
    x, y = xy(pairs)
    ax1.plot(x, y, color=c, lw=2.8)
marks(ax1, [m * hop for m in win_marks])
ax1.set_xlim(0, 3.93)
ax1.set_ylim(-15, 15)
ax1.set_xticks([0, 0.5, 1, 1.5, 2, 2.5, 3, 3.5])
ax1.set_yticks([-10, 0, 10])
ax1.xaxis.set_major_formatter(FormatStrFormatter('%g'))
style(ax1, 17.5)
labels(ax1, 'SNR', -0.206, -0.069)
ax1.set_title('Plot of signal to noise ratio', fontsize=TFS, fontweight='bold', y=1.151, va='center', pad=0)
fig.text(1022 / W, 1 - 326 / H, r'x 10$^{4}$', fontsize=17, ha='left', va='center')

# ---------- 2: envelope ----------
ax2 = add_axes(145, 1082, 382, 597)
env_series = [env_blue, env_green, env_red, env_cyan, env_mag, env_yel, env_8k, env_bb]
env_colors = [C_BLUE, C_GREEN, C_RED, C_CYAN, C_MAG, C_YEL, C_GRAY, C_OLIVE]
env_lw = [0.9, 0.9, 0.9, 0.9, 0.9, 1.4, 0.9, 3.2]
handles2 = []
for pairs, c, lw, lab in zip(env_series, env_colors, env_lw, band_labels):
    x, y = xy(pairs)
    h, = ax2.plot(x, y, color=c, lw=lw, label=lab)
    handles2.append(h)
marks(ax2, win_marks)
ax2.set_xlim(0, 328)
ax2.set_ylim(0, 6.3)
ax2.set_xticks(range(0, 301, 50))
ax2.set_yticks(range(0, 7))
style(ax2, 9.5)
labels(ax2, 'Amplitude', -0.163, -0.035)
ax2.set_title('Plot of degraded intensity envelope yd with SNR 0 dB', fontsize=TFS, fontweight='bold',
              y=1.128, va='center', pad=0)
fig.text(146 / W, 1 - 369 / H, r'x 10$^{7}$', fontsize=9, ha='left', va='center')
leg2 = fig.legend(handles=handles2, loc='upper left', bbox_to_anchor=(1061 / W, 1 - 335 / H),
                  fontsize=10, labelspacing=0.95, handlelength=2.6, handletextpad=0.4,
                  borderaxespad=0, borderpad=0.5, fancybox=False, framealpha=1)
leg2.get_frame().set_edgecolor('black')
leg2.get_frame().set_linewidth(1.0)


# ---------- STI panels ----------
def sti_panel(ax, idx, green, red, cyan, mag, yel, blk):
    ax.plot([0, blue_end], [sti_blue_level[idx]] * 2, color=C_BLUE, lw=3.2)
    for pairs, c, lw in [(green, C_GREEN, 3.0), (red, C_RED, 3.2), (cyan, C_CYAN, 2.6),
                         (mag, C_MAG, 2.8), (yel, C_YEL, 2.2), (blk, C_GRAY, 2.2)]:
        x, y = xy(pairs)
        ax.plot(x, y, color=c, lw=lw)
    ax.plot([0, blue_end], [mcps_level[idx]] * 2, color=C_BROWN, lw=2.6, dashes=(3, 1.6))
    marks(ax, win_marks)
    ax.set_xlim(0, 328)
    ax.set_xticks(range(0, 301, 50))


ax3 = add_axes(161, 1105, 671, 882)
sti_panel(ax3, 0, p3_green, p3_red, p3_cyan, p3_mag, p3_yel, p3_blk)
ax3.set_ylim(0, 0.95)
ax3.set_yticks([0, 0.5])
ax3.yaxis.set_major_formatter(FormatStrFormatter('%g'))
style(ax3, 17.5)
ax3.spines['top'].set_visible(False)
ax3.tick_params(top=False)
labels(ax3, 'STI', -0.209, -0.067, 0.55)
ax3.text(270, 0.56, 'MCPS method', fontsize=MFS, fontweight='bold', ha='left', va='center', zorder=6)

ax4 = add_axes(161, 1105, 994, 1206)
sti_panel(ax4, 1, p4_green, p4_red, p4_cyan, p4_mag, p4_yel, p4_blk)
ax4.set_ylim(0, 1)
ax4.set_yticks([0, 0.5, 1])
ax4.yaxis.set_major_formatter(FormatStrFormatter('%g'))
style(ax4, 17.5)
labels(ax4, 'STI', -0.212, -0.067, 0.52)
ax4.set_title('Plot of Speech Transmission Index using Normalized Correlation method', fontsize=TFS,
              fontweight='bold', y=1.156, va='center', pad=0)
ax4.text(193, 0.40, 'MCPS method', fontsize=MFS, fontweight='bold', ha='left', va='center', zorder=6)

ax5 = add_axes(162, 1120, 1329, 1563)
sti_panel(ax5, 2, p5_green, p5_red, p5_cyan, p5_mag, p5_yel, p5_blk)
ax5.set_ylim(0, 1)
ax5.set_yticks([0, 0.2, 0.4, 0.6, 0.8, 1])
ax5.yaxis.set_major_formatter(FormatStrFormatter('%g'))
style(ax5, 10.5)
labels(ax5, 'STI', -0.154, -0.049)
ax5.set_title('Plot of Speech Transmission Index using Normalized Covariance method', fontsize=TFS,
              fontweight='bold', y=1.115, va='center', pad=0)
ax5.text(270, 0.555, 'MCPS method', fontsize=MFS, fontweight='bold', ha='left', va='center', zorder=6)

# bottom legend for window lengths
win_colors = [C_BLUE, C_GREEN, C_RED, C_CYAN, C_MAG, C_YEL, C_GRAY]
win_handles = [Line2D([], [], color=c, lw=3) for c in win_colors]
leg = fig.legend(handles=win_handles, labels=window_labels, loc='upper left', ncol=7, mode='expand',
                 bbox_to_anchor=(0.002, 1 - 1642 / H, 0.996, 0), fontsize=10.5, handlelength=2.0,
                 handletextpad=0.25, columnspacing=0.5, borderaxespad=0, borderpad=0.35,
                 fancybox=False, framealpha=1)
leg.get_frame().set_edgecolor('black')
leg.get_frame().set_linewidth(1.0)

fig.savefig('out.png', dpi=100)
